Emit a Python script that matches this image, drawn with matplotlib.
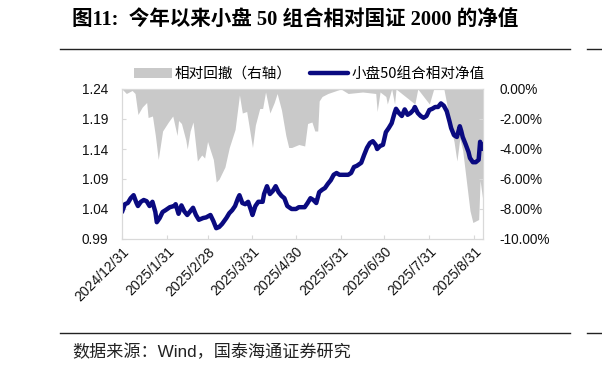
import matplotlib
matplotlib.use("Agg")
import matplotlib.pyplot as plt
import matplotlib.dates as mdates
from matplotlib.lines import Line2D
import pandas as pd

plt.rcParams['font.family'] = ['Liberation Sans', 'Noto Sans CJK SC', 'DejaVu Sans']

# ---- data ----
nav_dates = [
    "2024-12-31", "2025-01-02", "2025-01-04", "2025-01-06", "2025-01-08", "2025-01-10", "2025-01-11",
    "2025-01-13", "2025-01-15", "2025-01-17", "2025-01-19", "2025-01-21", "2025-01-23", "2025-01-24",
    "2025-01-26", "2025-01-28", "2025-01-30", "2025-02-02", "2025-02-05", "2025-02-06", "2025-02-08",
    "2025-02-10", "2025-02-12", "2025-02-14", "2025-02-16", "2025-02-18", "2025-02-20", "2025-02-22",
    "2025-02-25", "2025-02-27", "2025-03-02", "2025-03-04", "2025-03-06", "2025-03-08", "2025-03-10",
    "2025-03-13", "2025-03-15", "2025-03-17", "2025-03-19", "2025-03-21", "2025-03-22", "2025-03-24",
    "2025-03-26", "2025-03-28", "2025-03-30", "2025-03-31", "2025-04-02", "2025-04-04", "2025-04-07",
    "2025-04-08", "2025-04-10", "2025-04-12", "2025-04-14", "2025-04-16", "2025-04-18", "2025-04-20",
    "2025-04-22", "2025-04-24", "2025-04-27", "2025-04-30", "2025-05-02", "2025-05-06", "2025-05-08",
    "2025-05-10", "2025-05-12", "2025-05-14", "2025-05-16", "2025-05-18", "2025-05-20", "2025-05-22",
    "2025-05-24", "2025-05-26", "2025-05-28", "2025-05-30", "2025-06-02", "2025-06-05", "2025-06-07",
    "2025-06-09", "2025-06-11", "2025-06-14", "2025-06-16", "2025-06-18", "2025-06-20", "2025-06-22",
    "2025-06-24", "2025-06-25", "2025-06-27", "2025-06-29", "2025-07-01", "2025-07-03", "2025-07-05",
    "2025-07-07", "2025-07-08", "2025-07-10", "2025-07-12", "2025-07-14", "2025-07-16", "2025-07-18",
    "2025-07-20", "2025-07-21", "2025-07-23", "2025-07-25", "2025-07-27", "2025-07-29", "2025-07-31",
    "2025-08-02", "2025-08-04", "2025-08-06", "2025-08-08", "2025-08-10", "2025-08-12", "2025-08-14",
    "2025-08-15", "2025-08-17", "2025-08-19", "2025-08-21", "2025-08-22", "2025-08-23", "2025-08-25",
    "2025-08-27", "2025-08-28", "2025-08-30", "2025-09-01", "2025-09-03", "2025-09-04", "2025-09-05",
    "2025-09-06",
]
nav_values = [
    1.035, 1.048, 1.050, 1.058, 1.063, 1.050, 1.045,
    1.052, 1.055, 1.053, 1.045, 1.052, 1.035, 1.018,
    1.025, 1.035, 1.038, 1.043, 1.045, 1.048, 1.032,
    1.046, 1.036, 1.030, 1.036, 1.042, 1.030, 1.022,
    1.025, 1.026, 1.030, 1.020, 1.008, 1.010, 1.015,
    1.025, 1.033, 1.038, 1.045, 1.058, 1.063, 1.050,
    1.048, 1.052, 1.038, 1.030, 1.045, 1.052, 1.052,
    1.065, 1.078, 1.065, 1.070, 1.078, 1.068, 1.062,
    1.058, 1.045, 1.040, 1.040, 1.043, 1.043, 1.050,
    1.058, 1.055, 1.050, 1.068, 1.072, 1.075, 1.082,
    1.088, 1.097, 1.100, 1.097, 1.097, 1.097, 1.100,
    1.110, 1.112, 1.117, 1.130, 1.142, 1.150, 1.153,
    1.147, 1.140, 1.145, 1.147, 1.168, 1.175, 1.183,
    1.200, 1.207, 1.200, 1.195, 1.206, 1.197, 1.200,
    1.205, 1.210, 1.200, 1.195, 1.192, 1.195, 1.205,
    1.207, 1.210, 1.210, 1.216, 1.212, 1.203, 1.185,
    1.175, 1.163, 1.160, 1.178, 1.170, 1.160, 1.148,
    1.135, 1.125, 1.118, 1.118, 1.122, 1.152, 1.145,
    1.140,
]

dd_dates = [
    "2024-12-31", "2025-01-03", "2025-01-07", "2025-01-09", "2025-01-11", "2025-01-14", "2025-01-17",
    "2025-01-18", "2025-01-21", "2025-01-23", "2025-01-25", "2025-01-28", "2025-02-01", "2025-02-04",
    "2025-02-07", "2025-02-08", "2025-02-10", "2025-02-13", "2025-02-14", "2025-02-16", "2025-02-18",
    "2025-02-21", "2025-02-24", "2025-02-26", "2025-02-28", "2025-03-04", "2025-03-06", "2025-03-08",
    "2025-03-12", "2025-03-15", "2025-03-19", "2025-03-22", "2025-03-24", "2025-03-27", "2025-03-31",
    "2025-04-02", "2025-04-05", "2025-04-07", "2025-04-09", "2025-04-12", "2025-04-15", "2025-04-17",
    "2025-04-20", "2025-04-23", "2025-04-25", "2025-04-27", "2025-05-02", "2025-05-06", "2025-05-08",
    "2025-05-11", "2025-05-13", "2025-05-15", "2025-05-16", "2025-05-18", "2025-05-22", "2025-05-31",
    "2025-06-05", "2025-06-15", "2025-06-24", "2025-06-25", "2025-06-27", "2025-07-01", "2025-07-02",
    "2025-07-05", "2025-07-07", "2025-07-08", "2025-07-21", "2025-07-23", "2025-07-31", "2025-08-03",
    "2025-08-10", "2025-08-12", "2025-08-14", "2025-08-17", "2025-08-19", "2025-08-21", "2025-08-23",
    "2025-08-25", "2025-08-28", "2025-08-30", "2025-09-01", "2025-09-03", "2025-09-04", "2025-09-06",
]
dd_values = [
    0.0, -0.3, -0.1, -0.3, -1.7, -1.2, -0.9,
    -1.9, -1.8, -3.1, -4.7, -2.8, -2.2, -1.8,
    -3.1, -2.1, -2.3, -3.4, -4.0, -2.8, -2.2,
    -4.8, -4.4, -4.6, -3.5, -4.7, -6.2, -6.0,
    -5.2, -3.9, -2.7, -0.4, -1.6, -1.5, -3.9,
    -2.4, -1.3, -1.3, -0.2, -1.6, -0.9, -0.3,
    -1.4, -3.1, -3.9, -3.9, -3.7, -3.8, -2.3,
    -2.2, -2.8, -2.8, -0.8, -0.5, -0.3, 0.0,
    -0.3, -0.2, -0.3, -1.5, -0.2, -0.5, -1.0,
    0.0, -1.0, 0.0, -1.0, 0.0, -1.0, 0.0,
    0.0, -1.0, -2.3, -3.5, -4.8, -3.3, -4.1,
    -5.7, -8.1, -8.9, -8.8, -8.7, -6.1, -7.5,
]

tick_dates = ["2024-12-31", "2025-01-31", "2025-02-28", "2025-03-31", "2025-04-30",
              "2025-05-31", "2025-06-30", "2025-07-31", "2025-08-31"]
tick_labels = ["2024/12/31", "2025/1/31", "2025/2/28", "2025/3/31", "2025/4/30",
               "2025/5/31", "2025/6/30", "2025/7/31", "2025/8/31"]
left_ticks = [0.99, 1.04, 1.09, 1.14, 1.19, 1.24]
right_ticks = [-10, -8, -6, -4, -2, 0]

# ---- figure ----
W, H = 602, 370
fig = plt.figure(figsize=(W / 100, H / 100), dpi=100)
fig.patch.set_facecolor("white")

L, R, T, B = 122, 483, 89, 239
ax = fig.add_axes([L / W, 1 - B / H, (R - L) / W, (B - T) / H])
ax2 = ax.twinx()

nav_x = pd.to_datetime(nav_dates)
dd_x = pd.to_datetime(dd_dates)

grey = "#c9c9c9"
navy = "#0a0a80"
fill = ax2.fill_between(dd_x, dd_values, 0, color=grey, lw=0, label="相对回撤（右轴）")
line, = ax.plot(nav_x, nav_values, color=navy, lw=3.2, solid_capstyle="round",
                label="小盘50组合相对净值")

ax.set_zorder(ax2.get_zorder() + 1)
ax.patch.set_visible(False)

ax.set_xlim(pd.Timestamp("2024-12-31"), pd.Timestamp("2025-09-06"))
ax.set_ylim(0.99, 1.24)
ax.set_yticks(left_ticks)
ax.set_yticklabels([f"{v:.2f}" for v in left_ticks])
ax2.set_ylim(-10, 0)
ax2.set_yticks(right_ticks)
ax2.set_yticklabels([f"{v:.2f}%" for v in right_ticks])

ax.set_xticks(pd.to_datetime(tick_dates))
ax.set_xticklabels(tick_labels, rotation=45, ha="right", rotation_mode="anchor")

spine_c = "#d9d9d9"
for a in (ax, ax2):
    for s in a.spines.values():
        s.set_color(spine_c)
        s.set_linewidth(0.8)
    a.tick_params(direction="in", length=3, color=spine_c, labelsize=9.8, labelcolor="#111111")
ax.tick_params(axis="y", pad=10)
ax2.tick_params(axis="y", pad=12)
ax.tick_params(axis="x", pad=4, labelsize=10)

fig.legend(handles=[fill, line], loc="center left", bbox_to_anchor=(0.205, 0.800),
           ncol=2, frameon=False, handlelength=2.6, handletextpad=0.2,
           columnspacing=1.3, borderpad=0.2, prop={"family": ["Noto Sans CJK SC"], "size": 10.5})

# title and rules
fig.text(72 / W, 1 - 21 / H, "图11:  今年以来小盘 50 组合相对国证 2000 的净值",
         family=["Liberation Serif", "Noto Sans CJK SC"], fontweight="bold",
         fontsize=14.8, va="center", ha="left")
for y in (49, 333):
    fig.add_artist(Line2D([60 / W, 570 / W], [1 - y / H, 1 - y / H], color="#222222", lw=1.0))
    fig.add_artist(Line2D([587 / W, 1.0], [1 - y / H, 1 - y / H], color="#222222", lw=1.0))

fig.text(72 / W, 1 - 352 / H, "数据来源：Wind，国泰海通证券研究",
         family=["Liberation Sans", "Noto Sans CJK SC"], fontsize=12.3, va="center", ha="left",
         color="#222222")

fig.savefig("out.png", dpi=100)
